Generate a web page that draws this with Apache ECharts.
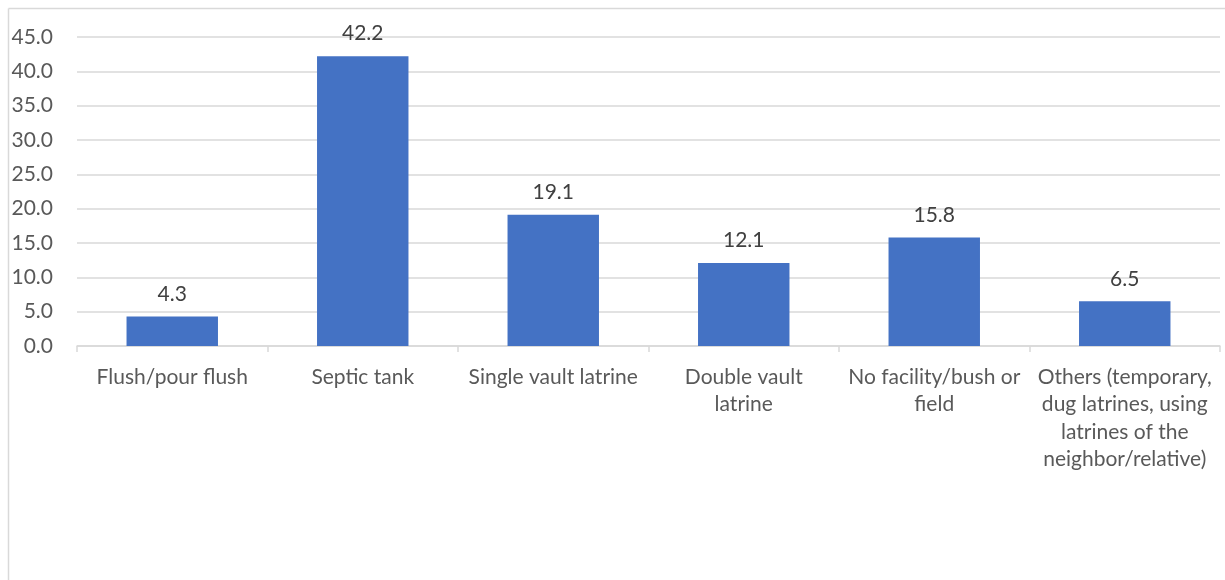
<!DOCTYPE html>
<html>
<head>
<meta charset="utf-8">
<script src="https://cdn.jsdelivr.net/npm/echarts@6/dist/echarts.min.js"></script>
<style>
  html, body { margin: 0; padding: 0; background: #fff; }
  #chart { width: 1225px; height: 580px; }
</style>
</head>
<body>
<div id="chart"></div>
<script>
// Sanitation facility types and their shares (%)
const categories = [
  'Flush/pour flush',
  'Septic tank',
  'Single vault latrine',
  'Double vault\nlatrine',
  'No facility/bush or\nfield',
  'Others (temporary,\ndug latrines, using\nlatrines of the\nneighbor/relative)'
];
const values = [4.3, 42.2, 19.1, 12.1, 15.8, 6.5];

const yMin = 0;
const yMax = 45;
const yStep = 5;

const textColor = '#595959';
const lineColor = '#d9d9d9';
const font = 'Lato, "Open Sans", sans-serif';

const chart = echarts.init(document.getElementById('chart'));
chart.setOption({
  animation: false,
  backgroundColor: '#ffffff',
  graphic: [
    { type: 'line', shape: { x1: 8.5, y1: 8.5, x2: 1225, y2: 8.5 }, style: { stroke: lineColor, lineWidth: 1.5 } },
    { type: 'line', shape: { x1: 8.5, y1: 8.5, x2: 8.5, y2: 580 }, style: { stroke: lineColor, lineWidth: 1.5 } }
  ],
  grid: { left: 77, right: 5, top: 37, bottom: 234, containLabel: false },
  xAxis: {
    type: 'category',
    data: categories,
    axisLine: { lineStyle: { color: lineColor, width: 1.5 } },
    axisTick: { show: true, length: 6, alignWithLabel: false, lineStyle: { color: lineColor, width: 1.5 } },
    axisLabel: {
      color: textColor, fontFamily: font, fontSize: 21, lineHeight: 27.5,
      interval: 0, margin: 17, align: 'center'
    }
  },
  yAxis: {
    type: 'value',
    min: yMin, max: yMax, interval: yStep,
    axisLine: { show: false },
    axisTick: { show: false },
    splitLine: { lineStyle: { color: lineColor, width: 1.5 } },
    axisLabel: {
      color: textColor, fontFamily: font, fontSize: 21, margin: 24,
      formatter: v => v.toFixed(1)
    }
  },
  series: [{
    type: 'bar',
    data: values,
    barWidth: '48%',
    itemStyle: { color: '#4472c4' },
    label: {
      show: true, position: 'top', distance: 12,
      color: '#404040', fontFamily: font, fontSize: 21,
      formatter: p => p.value.toFixed(1)
    }
  }]
});
</script>
</body>
</html>
